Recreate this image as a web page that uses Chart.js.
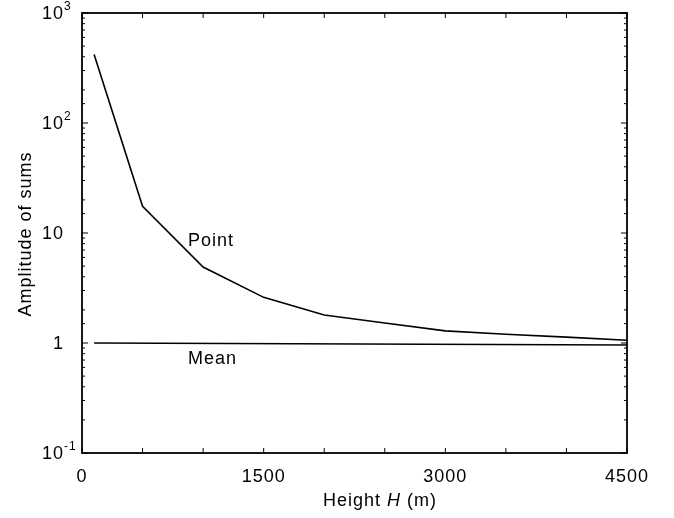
<!DOCTYPE html>
<html>
<head>
<meta charset="utf-8">
<script src="https://cdn.jsdelivr.net/npm/chart.js@4/dist/chart.umd.min.js"></script>
<style>
  html, body { margin: 0; padding: 0; background: #fff; }
  #wrap { width: 674px; height: 518px; }
</style>
</head>
<body>
<div id="wrap"><canvas id="chart_amp" width="674" height="518"></canvas></div>
<script>
// heights (m) and amplitudes
var heights = [100, 500, 1000, 1500, 2000, 2500, 3000, 3500, 4000, 4500];
var pointAmp = [420, 17.5, 4.9, 2.6, 1.8, 1.52, 1.29, 1.2, 1.13, 1.06];
var meanHeights = [100, 4500];
var meanAmp = [1.0, 0.96];
var xLabels = [0, 1500, 3000, 4500];
var yLabels = [[10, -1], [1, null], [10, null], [10, 2], [10, 3]];
var yLabelValues = [0.1, 1, 10, 100, 1000];
var curveNotes = [{ text: "Point", x: 875, y: 7.6 }, { text: "Mean", x: 875, y: 0.645 }];

var FONT = '"Liberation Sans", Arial, Helvetica, sans-serif';

function toXY(xs, ys) {
    return xs.map(function(x, i) { return { x: x, y: ys[i] }; });
}

var framePlugin = {
    id: 'frame',
    beforeDraw: function(chart) {
        chart.ctx.letterSpacing = '1px';
    },
    afterDraw: function(chart) {
        var c = chart.ctx, a = chart.chartArea;
        var xs = chart.scales.x, ys = chart.scales.y;
        c.save();
        c.strokeStyle = '#000';
        c.lineWidth = 1.8;
        c.strokeRect(a.left, a.top, a.right - a.left, a.bottom - a.top);

        // inward ticks on all four sides
        c.lineWidth = 1;
        c.beginPath();
        xs.ticks.forEach(function(t) {
            var px = xs.getPixelForValue(t.value);
            c.moveTo(px, a.bottom); c.lineTo(px, a.bottom - 5);
            c.moveTo(px, a.top); c.lineTo(px, a.top + 5);
        });
        ys.ticks.forEach(function(t) {
            var py = ys.getPixelForValue(t.value);
            var lg = Math.log10(t.value);
            var len = Math.abs(lg - Math.round(lg)) < 1e-6 ? 6 : 3;
            c.moveTo(a.left, py); c.lineTo(a.left + len, py);
            c.moveTo(a.right, py); c.lineTo(a.right - len, py);
        });
        c.stroke();

        // y tick labels with exponents
        c.fillStyle = '#000';
        c.textBaseline = 'alphabetic';
        yLabelValues.forEach(function(v, i) {
            var py = ys.getPixelForValue(v) + 6;
            var base = String(yLabels[i][0]);
            var exp = yLabels[i][1];
            var right = a.left - 18;
            c.font = '18px ' + FONT;
            c.textAlign = 'right';
            c.fillText(base, right, py);
            if (exp !== null) {
                c.font = '12px ' + FONT;
                c.textAlign = 'left';
                c.fillText(String(exp), right, py - 9);
            }
        });

        // axis titles
        c.font = '18px ' + FONT;
        c.save();
        c.translate(31, (a.top + a.bottom) / 2 + 1);
        c.rotate(-Math.PI / 2);
        c.textAlign = 'center';
        c.fillText('Amplitude of sums', 0, 0);
        c.restore();

        var p1 = 'Height ', p2 = 'H', p3 = ' (m)';
        c.font = '18px ' + FONT;
        var w1 = c.measureText(p1).width, w3 = c.measureText(p3).width;
        c.font = 'italic 18px ' + FONT;
        var w2 = c.measureText(p2).width;
        var cx = 380;
        var sx = cx - (w1 + w2 + w3) / 2, ty = 506;
        c.textAlign = 'left';
        c.font = '18px ' + FONT;
        c.fillText(p1, sx, ty);
        c.font = 'italic 18px ' + FONT;
        c.fillText(p2, sx + w1, ty);
        c.font = '18px ' + FONT;
        c.fillText(p3, sx + w1 + w2, ty);

        // curve labels
        curveNotes.forEach(function(n) {
            c.textAlign = 'left';
            c.fillText(n.text, xs.getPixelForValue(n.x), ys.getPixelForValue(n.y));
        });
        c.restore();
    }
};

var ctx = document.getElementById('chart_amp').getContext('2d');
var myChart = new Chart(ctx, {
    type: 'line',
    data: {
        datasets: [{
            label: 'Point',
            data: toXY(heights, pointAmp),
            borderColor: '#000',
            borderWidth: 1.6,
            pointRadius: 0,
            tension: 0,
            fill: false
        }, {
            label: 'Mean',
            data: toXY(meanHeights, meanAmp),
            borderColor: '#000',
            borderWidth: 1.6,
            pointRadius: 0,
            tension: 0,
            fill: false
        }]
    },
    options: {
        responsive: false,
        animation: false,
        events: [],
        layout: { padding: { left: 0, top: 13, right: 47, bottom: 0 } },
        plugins: { legend: { display: false }, tooltip: { enabled: false } },
        scales: {
            x: {
                type: 'linear',
                min: 0,
                max: 4500,
                border: { display: false },
                grid: { display: false, drawTicks: false },
                ticks: {
                    stepSize: 500,
                    autoSkip: false,
                    maxRotation: 0,
                    padding: 13,
                    color: '#000',
                    font: { family: FONT, size: 18 },
                    callback: function(v) { return xLabels.indexOf(v) >= 0 ? String(v) : ''; }
                },
                afterFit: function(s) { s.height = 65; }
            },
            y: {
                type: 'logarithmic',
                min: 0.1,
                max: 1000,
                border: { display: false },
                grid: { display: false, drawTicks: false },
                ticks: { display: false, autoSkip: false },
                afterFit: function(s) { s.width = 82; }
            }
        }
    },
    plugins: [framePlugin]
});
</script>
</body>
</html>
